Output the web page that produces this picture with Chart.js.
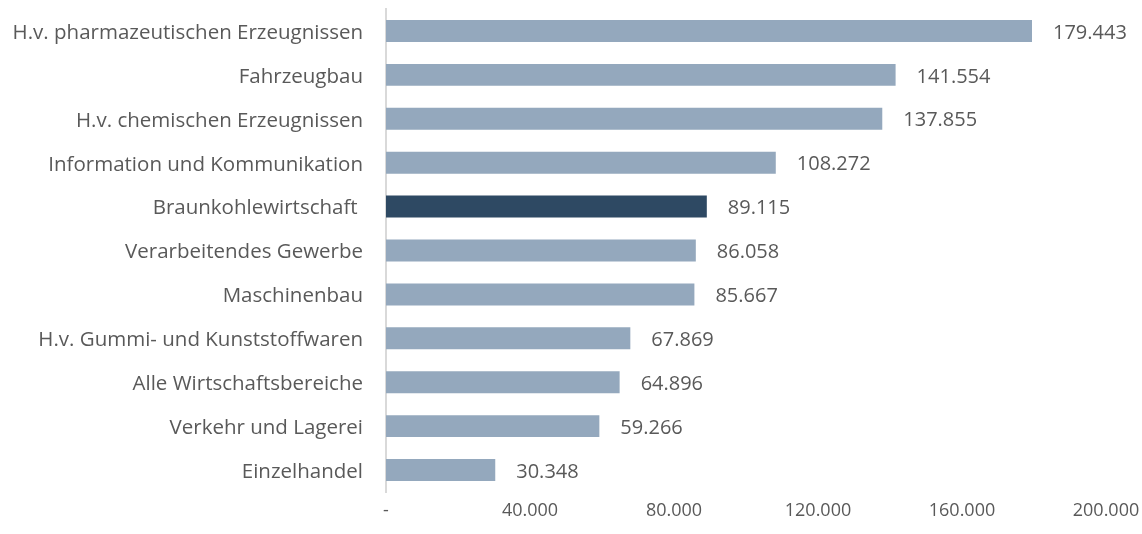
<!DOCTYPE html>
<html>
<head>
<meta charset="utf-8">
<script src="https://cdn.jsdelivr.net/npm/chart.js@4"></script>
<style>
  html, body { margin: 0; padding: 0; background: #fff; }
  #wrap { width: 1142px; height: 534px; }
</style>
</head>
<body>
<div id="wrap"><canvas id="barChart"></canvas></div>
<script>
// Categories and values (Bruttowertschöpfung je Erwerbstätigen, Euro)
var categories = [
  "H.v. pharmazeutischen Erzeugnissen",
  "Fahrzeugbau",
  "H.v. chemischen Erzeugnissen",
  "Information und Kommunikation",
  "Braunkohlewirtschaft ",
  "Verarbeitendes Gewerbe",
  "Maschinenbau",
  "H.v. Gummi- und Kunststoffwaren",
  "Alle Wirtschaftsbereiche",
  "Verkehr und Lagerei",
  "Einzelhandel"
];
var values = [179443, 141554, 137855, 108272, 89115, 86058, 85667, 67869, 64896, 59266, 30348];
var highlight = "Braunkohlewirtschaft ";
var xTicks = [0, 40000, 80000, 120000, 160000, 200000];

var textColor = "#595959";
var fontFamily = "'Open Sans', sans-serif";
var fontSize = 20.5;

function fmt(v) {
  if (v === 0) return "-";
  return v.toString().replace(/\B(?=(\d{3})+(?!\d))/g, ".");
}

let barColors = categories.map(c => c === highlight ? "#2E4963" : "#94A8BD");

// draws the value labels right of each bar
const valueLabels = {
  id: 'valueLabels',
  afterDatasetsDraw(chart) {
    let ctx = chart.ctx;
    let meta = chart.getDatasetMeta(0);
    ctx.save();
    ctx.fillStyle = textColor;
    ctx.font = "20px " + fontFamily;
    ctx.textAlign = "left";
    ctx.textBaseline = "middle";
    meta.data.forEach(function (bar, i) {
      ctx.fillText(fmt(values[i]), bar.x + 21, bar.y + 2);
    });
    ctx.restore();
  }
};

new Chart(document.getElementById('barChart'), {
  type: 'bar',
  data: {
    labels: categories,
    datasets: [{
      data: values,
      backgroundColor: barColors,
      barPercentage: 0.5,
      categoryPercentage: 1.0
    }]
  },
  options: {
    indexAxis: 'y',
    responsive: true,
    maintainAspectRatio: false,
    animation: false,
    layout: { padding: { top: 9, right: 36, left: 0, bottom: 0 } },
    plugins: { legend: { display: false }, tooltip: { enabled: false } },
    scales: {
      x: {
        min: 0, max: 200000,
        afterBuildTicks: function (scale) { scale.ticks = xTicks.map(v => ({ value: v })); },
        afterFit: function (scale) { scale.height = 42; scale.paddingLeft = 0; scale.paddingRight = 0; },
        grid: { display: false, drawTicks: false },
        border: { display: false },
        ticks: {
          color: textColor,
          padding: 8,
          maxRotation: 0,
          font: { family: fontFamily, size: 18 },
          callback: function (v) { return fmt(v); }
        }
      },
      y: {
        afterFit: function (scale) { scale.width = 386; scale.paddingTop = 0; scale.paddingBottom = 0; },
        grid: { display: false, drawTicks: false },
        border: { display: true, color: "#D9D9D9", width: 2 },
        ticks: {
          color: textColor,
          padding: 23,
          labelOffset: 2,
          font: { family: fontFamily, size: fontSize }
        }
      }
    }
  },
  plugins: [valueLabels]
});
</script>
</body>
</html>
